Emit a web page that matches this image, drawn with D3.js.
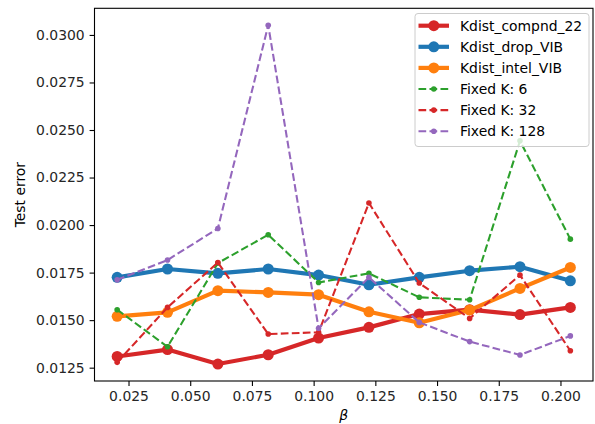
<!DOCTYPE html>
<html><head><meta charset="utf-8">
<script src="https://cdn.jsdelivr.net/npm/d3@7"></script>
<style>body{margin:0;background:#fff}svg{display:block}text{font-family:"DejaVu Sans",sans-serif}</style>
</head><body>
<svg id="c" width="595" height="424"></svg>
<script>
const betas = [0.0204,0.0408,0.0612,0.0816,0.1020,0.1224,0.1428,0.1632,0.1836,0.2040];
const compnd22 = [0.01309,0.01345,0.01269,0.01318,0.01406,0.01462,0.01532,0.01555,0.01529,0.01567];
const dropVIB  = [0.01725,0.01769,0.01746,0.01769,0.01737,0.01686,0.01725,0.01760,0.01781,0.01707];
const intelVIB = [0.01520,0.01541,0.01655,0.01646,0.01634,0.01544,0.01486,0.01553,0.01667,0.01777];
const fixedK6   = [0.01555,0.01360,0.01800,0.01949,0.01698,0.01746,0.01620,0.01607,0.02443,0.01926];
const fixedK32  = [0.01278,0.01567,0.01803,0.01427,0.01436,0.02116,0.01695,0.01509,0.01737,0.01339];
const fixedK128 = [0.01712,0.01816,0.01982,0.03051,0.01457,0.01725,0.01488,0.01387,0.01317,0.01417];
const xTicks = [0.025,0.050,0.075,0.100,0.125,0.150,0.175,0.200];
const yTicks = [0.0125,0.0150,0.0175,0.0200,0.0225,0.0250,0.0275,0.0300];

const series = [
  {name:"Kdist_compnd_22", vals:compnd22, color:"#d62728", thick:true},
  {name:"Kdist_drop_VIB", vals:dropVIB, color:"#1f77b4", thick:true},
  {name:"Kdist_intel_VIB", vals:intelVIB, color:"#ff7f0e", thick:true},
  {name:"Fixed K: 6", vals:fixedK6, color:"#2ca02c", thick:false},
  {name:"Fixed K: 32", vals:fixedK32, color:"#d62728", thick:false},
  {name:"Fixed K: 128", vals:fixedK128, color:"#9467bd", thick:false}
];

const L=94.5, R=593, T=8.3, B=381;
const svg = d3.select("#c");
const xmin=d3.min(betas), xmax=d3.max(betas), xm=(xmax-xmin)*0.05;
const allY = series.flatMap(s=>s.vals);
const ymin=d3.min(allY), ymax=d3.max(allY), ym=(ymax-ymin)*0.05;
const x = d3.scaleLinear().domain([xmin-xm, xmax+xm]).range([L,R]);
const y = d3.scaleLinear().domain([ymin-ym, ymax+ym]).range([B,T]);

const g = svg.append("g");
svg.append("clipPath").attr("id","cp").append("rect").attr("x",L).attr("y",T).attr("width",R-L).attr("height",B-T);
const plot = g.append("g").attr("clip-path","url(#cp)");
const line = d3.line().x((d,i)=>x(betas[i])).y(d=>y(d));
series.forEach(s=>{
  const sg = plot.append("g");
  sg.append("path").attr("d",line(s.vals)).attr("fill","none").attr("stroke",s.color)
    .attr("stroke-width", s.thick?4.17:2.08)
    .attr("stroke-dasharray", s.thick?null:"7.7,3.3")
    .attr("stroke-linejoin","round");
  sg.selectAll("circle").data(s.vals).enter().append("circle")
    .attr("cx",(d,i)=>x(betas[i])).attr("cy",d=>y(d))
    .attr("r", s.thick?5.5:2.8).attr("fill",s.color);
});

// axes
const xa = g.append("g").attr("transform",`translate(0,${B})`)
  .call(d3.axisBottom(x).tickValues(xTicks).tickFormat(d3.format(".3f")).tickSizeOuter(0).tickSize(4.9).tickPadding(4.9));
const ya = g.append("g").attr("transform",`translate(${L},0)`)
  .call(d3.axisLeft(y).tickValues(yTicks).tickFormat(d3.format(".4f")).tickSizeOuter(0).tickSize(4.9).tickPadding(4.9));
[xa,ya].forEach(a=>{
  a.select(".domain").remove();
  a.selectAll("line").attr("stroke","#000").attr("stroke-width",1.1);
  a.selectAll("text").attr("font-size","13.9px").attr("fill","#262626").attr("font-family","DejaVu Sans");
});
g.append("rect").attr("x",L).attr("y",T).attr("width",R-L).attr("height",B-T)
  .attr("fill","none").attr("stroke","#000").attr("stroke-width",1.1);

svg.append("text").attr("x",(L+R)/2).attr("y",420).attr("text-anchor","middle")
  .attr("font-size","13.9px").attr("font-style","italic").text("β");
svg.append("text").attr("transform",`translate(25,${(T+B)/2}) rotate(-90)`).attr("text-anchor","middle")
  .attr("font-size","13.9px").text("Test error");

// legend
const lg = svg.append("g");
lg.append("rect").attr("x",415).attr("y",13.5).attr("width",174).attr("height",133).attr("rx",3)
  .attr("fill","rgba(255,255,255,0.8)").attr("stroke","#ccc").attr("stroke-width",1);
series.forEach((s,i)=>{
  const yy = 25.7 + i*21.1;
  lg.append("line").attr("x1",418.5).attr("x2",449).attr("y1",yy).attr("y2",yy)
    .attr("stroke",s.color).attr("stroke-width",s.thick?4.17:2.08)
    .attr("stroke-dasharray",s.thick?null:"7.7,3.3");
  lg.append("circle").attr("cx",433.8).attr("cy",yy).attr("r",s.thick?5.5:2.8).attr("fill",s.color);
  lg.append("text").attr("x",460).attr("y",yy+5).attr("font-size","13.9px").attr("fill","#000").text(s.name);
});
</script>
</body></html>
